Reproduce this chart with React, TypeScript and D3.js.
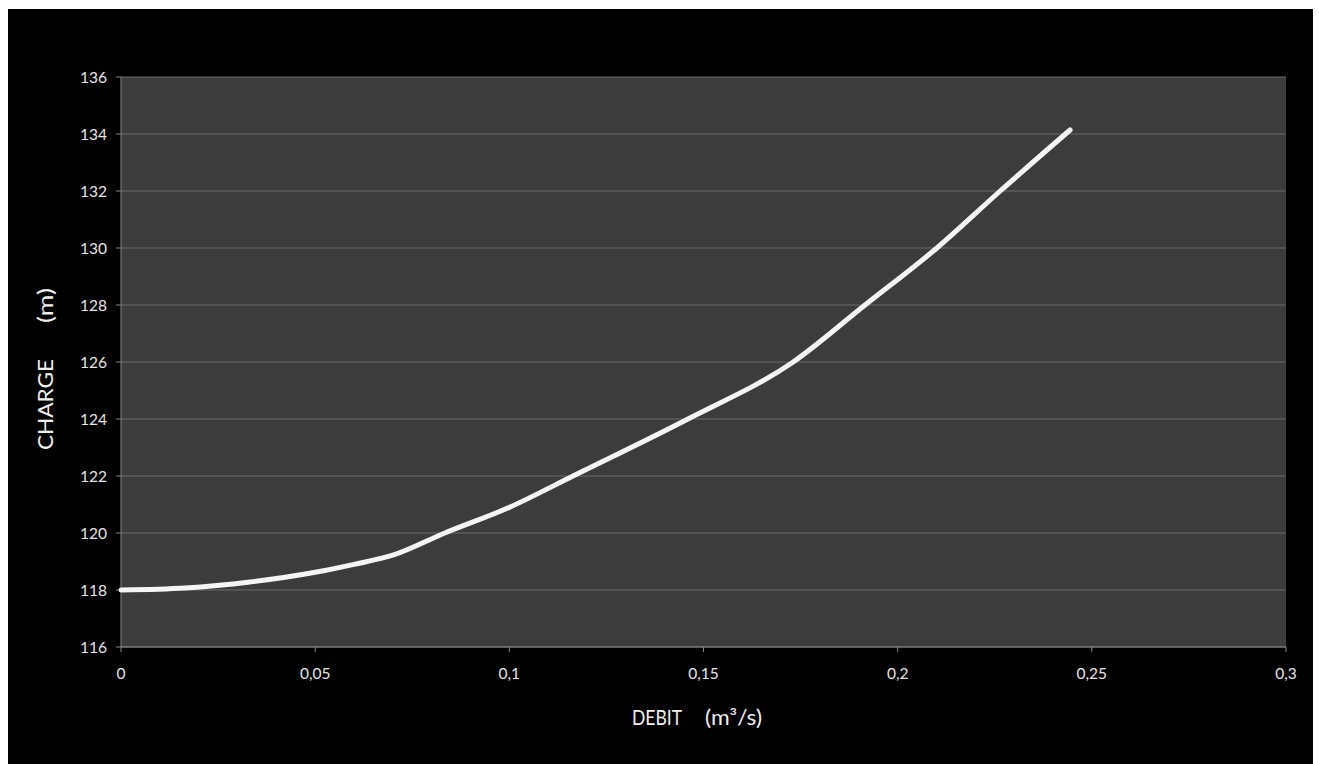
import React from "react";
import * as d3 from "d3";

const debit = [0, 0.0165, 0.0332, 0.05, 0.06, 0.07, 0.0834, 0.1, 0.1164, 0.146, 0.1731, 0.1916, 0.2101, 0.2264, 0.2444];
const charge = [118.0, 118.07, 118.28, 118.62, 118.9, 119.22, 120.0, 120.9, 122.0, 124.0, 126.0, 128.0, 130.0, 132.0, 134.14];
const xTicks = [0, 0.05, 0.1, 0.15, 0.2, 0.25, 0.3];
const xTickLabels = ["0", "0,05", "0,1", "0,15", "0,2", "0,25", "0,3"];
const yTicks = [116, 118, 120, 122, 124, 126, 128, 130, 132, 134, 136];

const W = 1305;
const H = 756;
const left = 113;
const right = 1278;
const top = 69;
const bottom = 639;

export default function App() {
  const x = d3.scaleLinear().domain([0, 0.3]).range([left, right]);
  const y = d3.scaleLinear().domain([116, 136]).range([bottom, top]);
  const pts: [number, number][] = debit.map((d, i) => [d, charge[i]]);
  const line = d3
    .line<[number, number]>()
    .x((d) => x(d[0]))
    .y((d) => y(d[1]))
    .curve(d3.curveMonotoneX);
  const font = "Lato, 'Open Sans', sans-serif";
  return (
    <svg width={W} height={H} style={{ display: "block", position: "absolute", left: 8, top: 8 }}>
      <rect x={0} y={1} width={W} height={H} fill="#000" />
      <rect x={left} y={top} width={right - left} height={bottom - top} fill="#3c3c3c" />
      {yTicks.map((t) => (
        <line key={"g" + t} x1={left} x2={right} y1={y(t)} y2={y(t)} stroke="#6a6a6a" strokeWidth={1} />
      ))}
      <line x1={left} x2={left} y1={top} y2={bottom} stroke="#868686" strokeWidth={1} />
      <line x1={left} x2={right} y1={bottom} y2={bottom} stroke="#868686" strokeWidth={1} />
      {yTicks.map((t) => (
        <g key={"y" + t}>
          <line x1={left - 5} x2={left} y1={y(t)} y2={y(t)} stroke="#868686" />
          <text x={left - 14} y={y(t)} dy="0.36em" textAnchor="end" fill="#e6e6e6" fontSize={15.5} fontFamily={font}>
            {t}
          </text>
        </g>
      ))}
      {xTicks.map((t, i) => (
        <g key={"x" + t}>
          <line x1={x(t)} x2={x(t)} y1={bottom} y2={bottom + 5} stroke="#868686" />
          <text x={x(t)} y={bottom + 32} textAnchor="middle" fill="#e6e6e6" fontSize={15.5} fontFamily={font}>
            {xTickLabels[i]}
          </text>
        </g>
      ))}
      <path d={line(pts) || ""} fill="none" stroke="#f5f5f5" strokeWidth={5} strokeLinecap="round" strokeLinejoin="round" />
      <text x={624} y={717} textAnchor="start" fill="#f0f0f0" fontSize={21} fontFamily={font} textLength={50} lengthAdjust="spacingAndGlyphs">
        DEBIT
      </text>
      <text x={697} y={717} textAnchor="start" fill="#f0f0f0" fontSize={21} fontFamily={font} textLength={57} lengthAdjust="spacingAndGlyphs">
        (m³/s)
      </text>
      <text
        transform={`translate(45, 442) rotate(-90)`}
        textAnchor="start"
        fill="#f0f0f0"
        fontSize={21}
        fontFamily={font}
        textLength={91}
        lengthAdjust="spacingAndGlyphs"
      >
        CHARGE
      </text>
      <text
        transform={`translate(45, 315) rotate(-90)`}
        textAnchor="start"
        fill="#f0f0f0"
        fontSize={21}
        fontFamily={font}
        textLength={35}
        lengthAdjust="spacingAndGlyphs"
      >
        (m)
      </text>
    </svg>
  );
}
